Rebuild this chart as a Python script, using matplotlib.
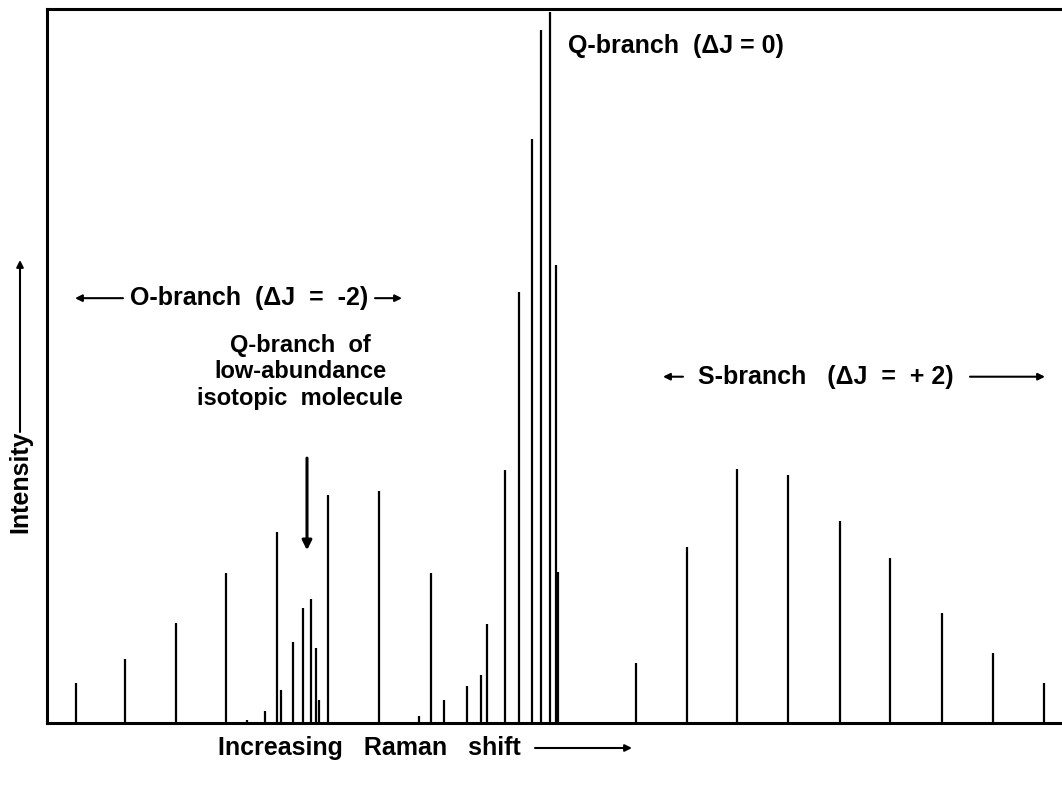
import matplotlib
matplotlib.use("Agg")
import matplotlib.pyplot as plt

# line positions (arbitrary shift units) and relative intensities (0-100)
o_shift = [29, 78, 129, 179, 200, 218, 230, 234, 246, 256, 264, 269, 272, 281,
           332, 372, 384, 397, 420, 434, 440]
o_int = [5.6, 9.0, 14.0, 21.0, 0.4, 1.7, 26.8, 4.6, 11.3, 16.1, 17.4, 10.5, 3.2, 31.9,
         32.5, 1.0, 21.0, 3.2, 5.2, 6.7, 13.9]

q_shift = [458, 472, 485, 494, 503, 509, 511]
q_int = [35.4, 60.4, 81.8, 97.1, 99.6, 64.1, 21.1]

s_shift = [589, 640, 690, 741, 793, 843, 895, 946, 997]
s_int = [8.4, 24.6, 35.6, 34.7, 28.3, 23.1, 15.4, 9.8, 5.6]

W, H = 1062, 787

plt.rcParams['font.family'] = ['Liberation Sans', 'DejaVu Sans']
plt.rcParams['font.weight'] = 'bold'

fig = plt.figure(figsize=(W / 100, H / 100), dpi=100)
ax = fig.add_axes([47 / W, 64 / H, 1 - 47 / W, (723 - 9) / H])

ax.vlines(o_shift, 0, o_int, color='black', lw=1.6)
ax.vlines(q_shift, 0, q_int, color='black', lw=1.6)
ax.vlines(s_shift, 0, s_int, color='black', lw=1.6)

ax.set_xlim(0, 1015)
ax.set_ylim(0, 100)
ax.set_xticks([])
ax.set_yticks([])
ax.spines['right'].set_visible(False)
for s in ['left', 'top', 'bottom']:
    ax.spines[s].set_linewidth(2.2)

fs = 18
arr = dict(arrowstyle='-|>', color='black', lw=1.5, mutation_scale=10, shrinkA=0, shrinkB=0)

# Q-branch label
ax.text(521, 94.8, "Q-branch  (\u0394J = 0)", fontsize=fs, ha='left', va='center')

# O-branch label with arrows
ax.text(202, 59.5, "O-branch  (\u0394J  =  -2)", fontsize=fs, ha='center', va='center')
ax.annotate("", xy=(28, 59.5), xytext=(76, 59.5), arrowprops=arr)
ax.annotate("", xy=(355, 59.5), xytext=(328, 59.5), arrowprops=arr)

# isotopic Q-branch note
ax.text(253, 49.2, "Q-branch  of\nlow-abundance\nisotopic  molecule", fontsize=17,
        ha='center', va='center', linespacing=1.2)
ax.annotate("", xy=(260, 24.2), xytext=(260, 37.1),
            arrowprops=dict(arrowstyle='-|>', color='black', lw=2.2, mutation_scale=14,
                            shrinkA=0, shrinkB=0))

# S-branch label with arrows
ax.text(779, 48.5, "S-branch   (\u0394J  =  + 2)", fontsize=fs, ha='center', va='center')
ax.annotate("", xy=(616, 48.5), xytext=(636, 48.5), arrowprops=arr)
ax.annotate("", xy=(998, 48.5), xytext=(923, 48.5), arrowprops=arr)

# axis labels with arrows
fig.text(218 / W, 1 - 748 / H, "Increasing   Raman   shift", fontsize=fs, ha='left', va='center')
ax.annotate("", xy=(632 / W, 1 - 748 / H), xytext=(535 / W, 1 - 748 / H),
            xycoords='figure fraction', textcoords='figure fraction', arrowprops=arr)

fig.text(20 / W, 1 - 482 / H, "Intensity", fontsize=fs, rotation=90, ha='center', va='center')
ax.annotate("", xy=(20 / W, 1 - 260 / H), xytext=(20 / W, 1 - 432 / H),
            xycoords='figure fraction', textcoords='figure fraction', arrowprops=arr)

fig.savefig("out.png", dpi=100)
